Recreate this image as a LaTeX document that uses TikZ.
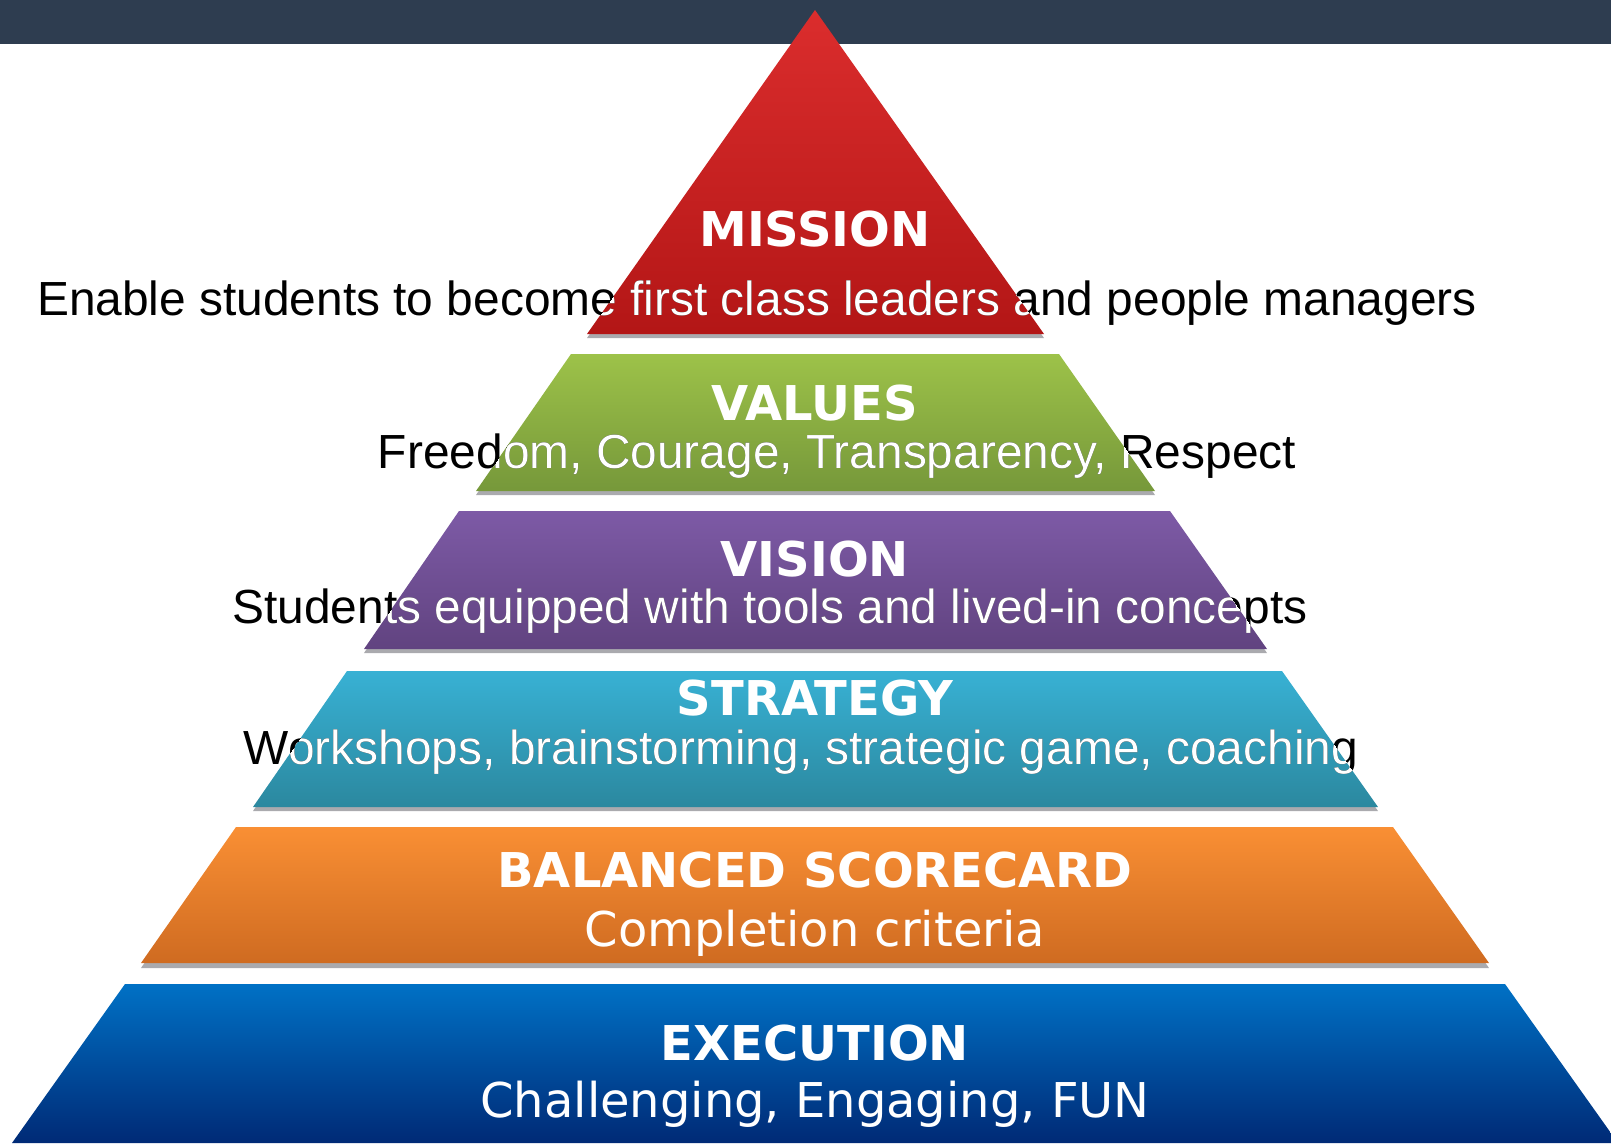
\documentclass[tikz,border=0pt]{standalone}
\usepackage{fontspec}
\setmainfont{DejaVu Sans}
\newfontfamily\arialf{Liberation Sans}
\definecolor{barc}{HTML}{2E3D50}
\definecolor{shadowc}{RGB}{170,170,174}
\definecolor{misT}{HTML}{DB2D2D}\definecolor{misB}{HTML}{B31616}
\definecolor{valT}{HTML}{9DC249}\definecolor{valB}{HTML}{76983A}
\definecolor{visT}{HTML}{7D5AA6}\definecolor{visB}{HTML}{614380}
\definecolor{strT}{HTML}{38B1D4}\definecolor{strB}{HTML}{2B889F}
\definecolor{balT}{HTML}{F98F34}\definecolor{balB}{HTML}{CF6B21}
\definecolor{exeT}{HTML}{0071C5}\definecolor{exeB}{HTML}{002A76}
\tikzset{
  title/.style={font=\fontsize{27.3}{30}\selectfont\bfseries, text=white, anchor=base, inner sep=0pt},
  desc/.style={font=\arialf\fontsize{27.25}{30}\selectfont, anchor=base, inner sep=0pt},
  descd/.style={font=\fontsize{27.3}{30}\selectfont, text=white, anchor=base, inner sep=0pt},
  shad/.style={fill=shadowc},
}
\begin{document}
\begin{tikzpicture}[x=0.02cm,y=-0.02cm]
\useasboundingbox (0,0) rectangle (1611,1143);
\fill[barc] (0,0) rectangle (1611,44);
% shadows
\fill[shad] (815,14) -- (1044,338) -- (587,338) -- cycle;
\fill[shad] (571,358) -- (1059,358) -- (1155,495) -- (476,495) -- cycle;
\fill[shad] (459,515) -- (1170,515) -- (1267,653) -- (364,653) -- cycle;
\fill[shad] (347,675) -- (1282,675) -- (1378,811) -- (253,811) -- cycle;
\fill[shad] (236,831) -- (1393,831) -- (1489,968) -- (141,968) -- cycle;
% layers
\shade[top color=misT, bottom color=misB] (815,10) -- (1044,334) -- (587,334) -- cycle;
\shade[top color=valT, bottom color=valB] (571,354) -- (1059,354) -- (1155,491) -- (476,491) -- cycle;
\shade[top color=visT, bottom color=visB] (459,511) -- (1170,511) -- (1267,649) -- (364,649) -- cycle;
\shade[top color=strT, bottom color=strB] (347,671) -- (1282,671) -- (1378,807) -- (253,807) -- cycle;
\shade[top color=balT, bottom color=balB] (236,827) -- (1393,827) -- (1489,963) -- (141,963) -- cycle;
\shade[top color=exeT, bottom color=exeB] (125,984) -- (1505,984) -- (1618,1143) -- (12,1143) -- cycle;
% titles
\node[title] (tmis) at (815,246) {MISSION};
\node[title] (tval) at (815,420) {VALUES};
\node[title] (tvis) at (815,576) {VISION};
\node[title] (tstr) at (815,715) {STRATEGY};
\node[title] (tbal) at (815,887) {BALANCED SCORECARD};
\node[title] (texe) at (815,1060) {EXECUTION};
% descriptions (black outside, white inside)
\node[desc] (dmis) at (757,315) {Enable students to become first class leaders and people managers};
\node[desc] (dval) at (837,468) {Freedom, Courage, Transparency, Respect};
\node[desc] (dvis) at (770,623) {Students equipped with tools and lived-in concepts};
\node[desc] (dstr) at (801,764) {Workshops, brainstorming, strategic game, coaching};
\begin{scope}
\clip (815,10) -- (1044,334) -- (587,334) -- cycle;
\node[desc, text=white] (dmisw) at (757,315) {Enable students to become first class leaders and people managers};
\end{scope}
\begin{scope}
\clip (571,354) -- (1059,354) -- (1155,491) -- (476,491) -- cycle;
\node[desc, text=white] (dvalw) at (837,468) {Freedom, Courage, Transparency, Respect};
\end{scope}
\begin{scope}
\clip (459,511) -- (1170,511) -- (1267,649) -- (364,649) -- cycle;
\node[desc, text=white] (dvisw) at (770,623) {Students equipped with tools and lived-in concepts};
\end{scope}
\begin{scope}
\clip (347,671) -- (1282,671) -- (1378,807) -- (253,807) -- cycle;
\node[desc, text=white] (dstrw) at (801,764) {Workshops, brainstorming, strategic game, coaching};
\end{scope}
\node[descd] (dbal) at (815,946) {Completion criteria};
\node[descd] (dexe) at (815,1117) {Challenging, Engaging, FUN};
\end{tikzpicture}
\end{document}
